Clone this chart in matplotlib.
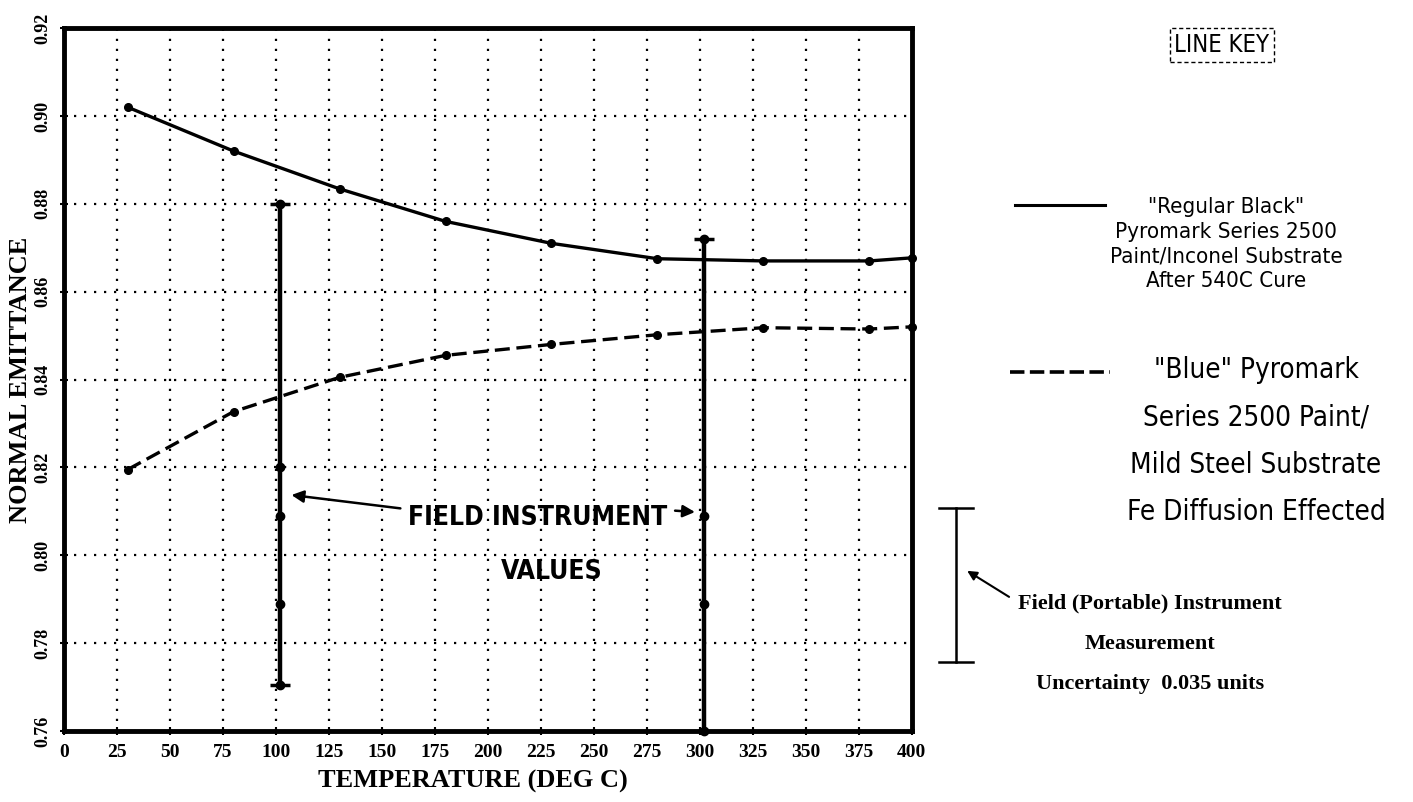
import matplotlib.pyplot as plt
import numpy as np

# emittance curves vs temperature
temp_c = [30, 80, 130, 180, 230, 280, 330, 380, 400]
regular_black = [0.902, 0.892, 0.8834, 0.876, 0.871, 0.8675, 0.867, 0.867, 0.8677]
blue = [0.8195, 0.8327, 0.8405, 0.8455, 0.848, 0.8502, 0.8518, 0.8515, 0.852]

# portable instrument readings at two temperatures
field_x = [102, 302]
field_vals = [[0.880, 0.820, 0.809, 0.789, 0.7705],
              [0.872, 0.809, 0.789, 0.760]]

uncertainty = 0.035
unc_center = 0.7933

xticks = np.arange(0, 401, 25)
yticks = [0.76, 0.78, 0.80, 0.82, 0.84, 0.86, 0.88, 0.90, 0.92]

fig = plt.figure(figsize=(14.13, 8.02), dpi=100)
ax = fig.add_axes([0.0453, 0.0885, 0.600, 0.8765])

ax.set_xlim(0, 400)
ax.set_ylim(0.76, 0.92)
ax.set_xticks(xticks)
ax.set_yticks(yticks)
ax.set_xticklabels([str(t) for t in xticks], fontfamily='Liberation Serif',
                   fontweight='bold', fontsize=14)
ax.set_yticklabels(['%.2f' % t for t in yticks], fontfamily='Liberation Serif',
                   fontweight='bold', fontsize=13, rotation=90, va='center')
ax.tick_params(direction='inout', length=6, width=1.5, pad=6)
ax.grid(True, color='black', linestyle=(0, (1, 3.5)), linewidth=1.6)
for s in ax.spines.values():
    s.set_linewidth(3.5)

ax.set_xlabel('TEMPERATURE (DEG C)', fontfamily='Liberation Serif',
              fontsize=19, fontweight='bold', labelpad=8)
ax.xaxis.set_label_coords(0.482, -0.055)
ax.set_ylabel('NORMAL EMITTANCE', fontfamily='Liberation Serif',
              fontsize=19, fontweight='bold', labelpad=2)

ax.plot(temp_c, regular_black, color='black', linewidth=2.4,
        marker='o', markersize=5.5, clip_on=False, zorder=4)
ax.plot(temp_c, blue, color='black', linewidth=2.4, linestyle=(0, (4.5, 2)),
        marker='o', markersize=5.5, clip_on=False, zorder=4)

# field instrument bars
for fx, vals in zip(field_x, field_vals):
    ax.plot([fx, fx], [min(vals), max(vals)], color='black', linewidth=3.2,
            clip_on=False, zorder=5)
    ax.plot([fx] * len(vals), vals, 'o', color='black', markersize=6,
            clip_on=False, zorder=6)
    ax.plot([fx], [max(vals)], marker='_', color='black', markersize=14,
            markeredgewidth=2.5, clip_on=False, zorder=6)
    if min(vals) > 0.76:
        ax.plot([fx], [min(vals)], marker='_', color='black', markersize=14,
                markeredgewidth=2.5, clip_on=False, zorder=6)

cond = dict(fontfamily='DejaVu Sans', fontstretch='condensed')
ax.text(223.5, 0.8086, 'FIELD INSTRUMENT', fontweight='bold', fontsize=19,
        ha='center', va='center', zorder=7, **cond)
ax.text(230, 0.7962, 'VALUES', fontweight='bold', fontsize=19,
        ha='center', va='center', zorder=7, **cond)
arrow = dict(arrowstyle='-|>', color='black', linewidth=1.8, mutation_scale=18)
ax.annotate('', xy=(106, 0.8138), xytext=(160, 0.8106), arrowprops=arrow, zorder=7)
ax.annotate('', xy=(299, 0.8098), xytext=(287, 0.8102), arrowprops=arrow, zorder=7)

# line key on the right
fig.text(1222 / 1413, 1 - 45 / 802, 'LINE KEY', fontsize=17, ha='center',
         va='center',
         bbox=dict(boxstyle='square,pad=0.2', facecolor='none',
                   edgecolor='black', linewidth=1.0, linestyle=(0, (3, 2))),
         **cond)

fig.add_artist(plt.Line2D([1015 / 1413, 1105 / 1413], [1 - 205 / 802] * 2,
                          color='black', linewidth=2.2))
fig.text(1226 / 1413, 1 - 244 / 802,
         '"Regular Black"\nPyromark Series 2500\nPaint/Inconel Substrate\nAfter 540C Cure',
         fontsize=16, ha='center', va='center', linespacing=1.3, **cond)

fig.add_artist(plt.Line2D([1010 / 1413, 1110 / 1413], [1 - 372 / 802] * 2,
                          color='black', linewidth=2.6, linestyle=(0, (4, 1.5))))
fig.text(1256 / 1413, 1 - 441 / 802,
         '"Blue" Pyromark\nSeries 2500 Paint/\nMild Steel Substrate\nFe Diffusion Effected',
         fontsize=20, ha='center', va='center', linespacing=1.88, **cond)

# uncertainty scale bar, drawn in data units outside the axes
ux = 421
ax.plot([ux, ux], [unc_center - uncertainty / 2, unc_center + uncertainty / 2],
        color='black', linewidth=1.8, clip_on=False)
for yy in (unc_center - uncertainty / 2, unc_center + uncertainty / 2):
    ax.plot([ux - 8, ux + 8], [yy, yy], color='black', linewidth=1.8, clip_on=False)
ax.annotate('', xy=(425, 0.7968), xytext=(447, 0.7902),
            arrowprops=dict(arrowstyle='-|>', color='black', linewidth=1.5,
                            mutation_scale=14), annotation_clip=False)
fig.text(1150 / 1413, 1 - 644 / 802,
         'Field (Portable) Instrument\nMeasurement\nUncertainty  0.035 units',
         fontfamily='Liberation Serif', fontweight='bold', fontsize=16,
         ha='center', va='center', linespacing=2.35)

fig.savefig('out.png', dpi=100)
